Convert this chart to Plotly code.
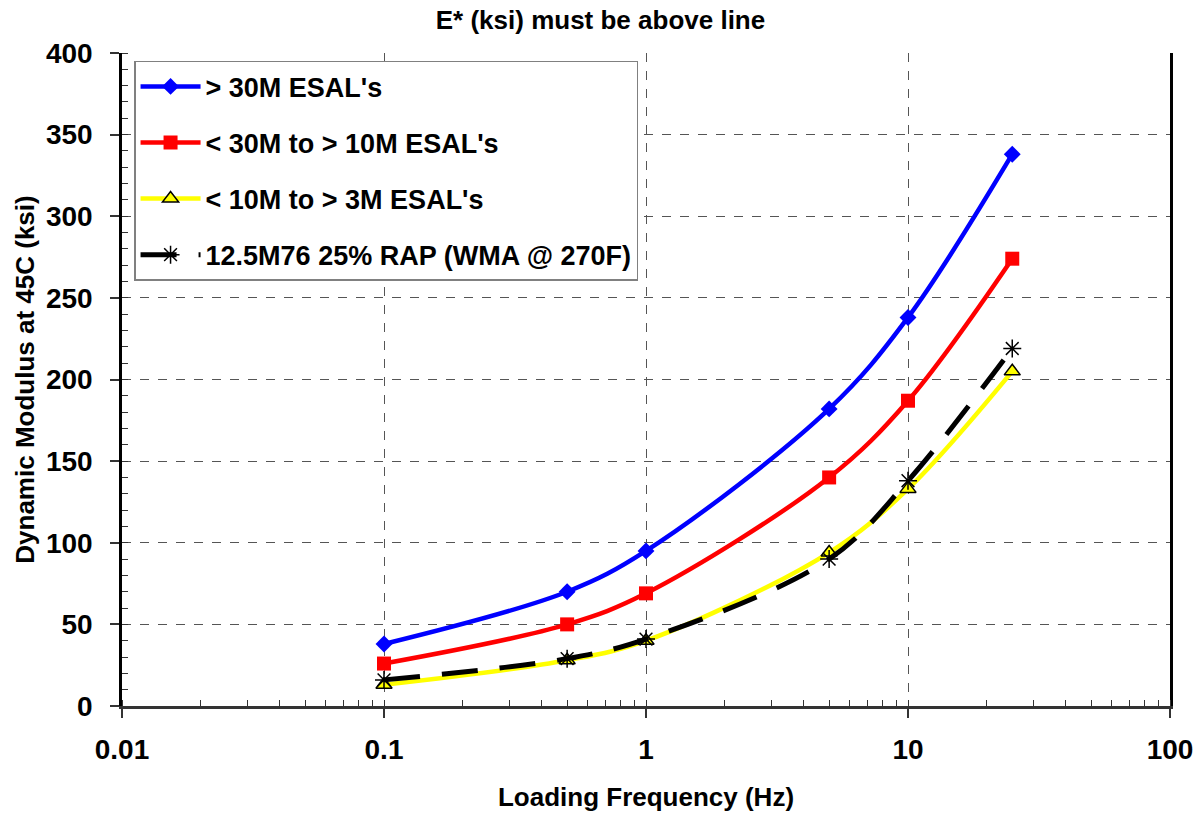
import plotly.graph_objects as go

freq = [0.1, 0.5, 1, 5, 10, 25]
esal_30m = [38, 70, 95, 182, 238, 338]
esal_10_30m = [26, 50, 69, 140, 187, 274]
esal_3_10m = [13, 28, 40, 94, 133, 205]
wma_270f = [16, 29, 41, 90, 138, 219]

names = ["> 30M ESAL's", "< 30M to > 10M ESAL's", "< 10M to > 3M ESAL's",
         "12.5M76 25% RAP (WMA @ 270F)"]

x_tickvals = [0.01, 0.1, 1, 10, 100]
x_ticktext = ["0.01", "0.1", "1", "10", "100"]
y_tickvals = [0, 50, 100, 150, 200, 250, 300, 350, 400]

FONT = "Liberation Sans, Arial, sans-serif"

fig = go.Figure()
fig.add_trace(go.Scatter(
    x=freq, y=esal_30m, name=names[0], mode="lines+markers", legendgroup="a",
    line=dict(color="#0000ff", width=4.5, shape="spline"),
    marker=dict(symbol="diamond", size=13, color="#0000ff")))
fig.add_trace(go.Scatter(
    x=freq, y=esal_10_30m, name=names[1], mode="lines+markers", legendgroup="b",
    line=dict(color="#ff0000", width=4.5, shape="spline"),
    marker=dict(symbol="square", size=14, color="#ff0000")))
fig.add_trace(go.Scatter(
    x=freq, y=esal_3_10m, name=names[2], mode="lines+markers", legendgroup="c",
    line=dict(color="#ffff00", width=4.5, shape="spline"),
    marker=dict(symbol="triangle-up", size=14, color="#ffff00",
                line=dict(color="black", width=1.5))))
fig.add_trace(go.Scatter(
    x=freq, y=wma_270f, name=names[3], mode="lines+markers", legendgroup="d",
    line=dict(color="black", width=5, shape="spline", dash="36px,22px"),
    marker=dict(symbol="asterisk-open", size=15, color="black",
                line=dict(color="black", width=1.5))))

fig.update_layout(
    width=1201, height=813,
    margin=dict(l=122, r=31, t=53, b=107),
    paper_bgcolor="white", plot_bgcolor="white",
    font=dict(family=FONT, color="black"),
    title=dict(text="E* (ksi) must be above line", x=0.5, xanchor="center",
               y=0.975, yanchor="middle",
               font=dict(size=26, family=FONT, weight="bold", color="black")),
    showlegend=True,
    legend=dict(x=0.0115, y=0.988, xanchor="left", yanchor="top",
                bgcolor="white", bordercolor="#808080", borderwidth=1.5,
                font=dict(size=27, family=FONT, weight="bold"),
                tracegroupgap=18, traceorder="grouped",
                itemwidth=60),
)

fig.update_xaxes(
    type="log", range=[-2, 2], automargin=False,
    tickvals=x_tickvals, ticktext=["<b>%s</b>" % t for t in x_ticktext],
    tickfont=dict(size=28, family=FONT),
    showline=True, linecolor="#333333", linewidth=2.5,
    ticks="outside", ticklen=9, tickcolor="#333333", tickwidth=1.5,
    ticklabelstandoff=8,
    showgrid=True, gridcolor="#555555", griddash="dash", gridwidth=1,
    minor=dict(ticks="inside", ticklen=6, tickcolor="#333333", tickwidth=1.2,
               showgrid=False, dtick="D1"),
    title=dict(text="<b>Loading Frequency (Hz)</b>", font=dict(size=26, family=FONT),
               standoff=24),
    zeroline=False,
)
fig.update_yaxes(
    range=[0, 400],
    tickvals=y_tickvals, ticktext=["<b>%d</b>" % v for v in y_tickvals],
    tickfont=dict(size=28, family=FONT),
    showline=True, linecolor="black", linewidth=2.5, mirror=True,
    ticks="outside", ticklen=9, tickcolor="#333333", tickwidth=1.5,
    ticklabelstandoff=12,
    showgrid=True, gridcolor="#555555", griddash="dash", gridwidth=1,
    minor=dict(ticks="inside", ticklen=6, tickcolor="#333333", tickwidth=1.2,
               dtick=10, showgrid=False),
    title=dict(text="<b>Dynamic Modulus at 45C (ksi)</b>", font=dict(size=26, family=FONT),
               standoff=4),
    zeroline=False,
)

fig.write_html("out.html")
